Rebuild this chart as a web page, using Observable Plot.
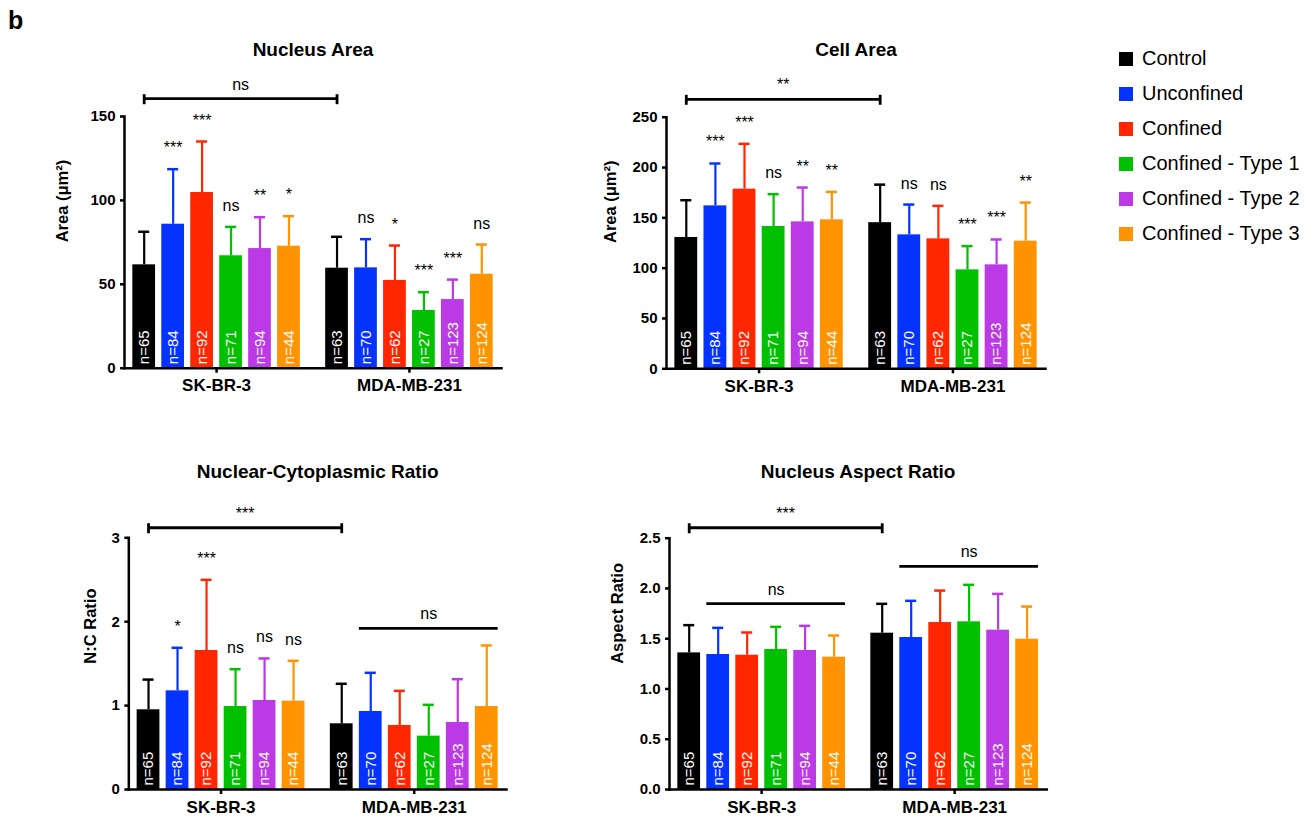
<!DOCTYPE html>
<html>
<head>
<meta charset="utf-8">
<script src="https://cdn.jsdelivr.net/npm/d3@7"></script>
<script src="https://cdn.jsdelivr.net/npm/@observablehq/plot@0.6"></script>
<style>
  html, body { margin: 0; padding: 0; background: #fff; }
  #root { position: relative; width: 1314px; height: 817px; overflow: hidden; font-family: "Liberation Sans", Arial, sans-serif; }
  .panel { position: absolute; }
  #tag { position: absolute; left: 8px; top: 6px; font-size: 25px; font-weight: bold; }
  #legend { position: absolute; left: 1119px; top: 41px; }
  .lg-row { display: flex; align-items: center; height: 35px; font-size: 20px; }
  .lg-sw { width: 14px; height: 14px; margin-right: 9px; }
</style>
</head>
<body>
<div id="root"><div id="tag">b</div><div id="legend"></div></div>
<script>
// ---------------- data ----------------
const conditions = ["Control", "Unconfined", "Confined", "Confined - Type 1", "Confined - Type 2", "Confined - Type 3"];
const cellLines = ["SK-BR-3", "MDA-MB-231"];
const nCounts = [65, 84, 92, 71, 94, 44, 63, 70, 62, 27, 123, 124];

const nucleusAreaMean = [61.6, 85.8, 104.7, 67.0, 71.3, 72.7, 59.6, 59.8, 52.3, 34.4, 40.9, 56.0];
const nucleusAreaSD   = [19.7, 32.8, 30.4, 17.2, 18.7, 17.9, 18.7, 17.1, 20.8, 10.9, 11.9, 17.7];
const nucleusAreaSig  = ["", "***", "***", "ns", "**", "*", "", "ns", "*", "***", "***", "ns"];

const cellAreaMean = [130.5, 161.9, 178.5, 141.4, 146.0, 148.0, 145.2, 133.1, 129.1, 98.3, 103.3, 126.8];
const cellAreaSD   = [37.0, 42.1, 45.0, 32.1, 34.1, 27.8, 37.8, 30.1, 32.8, 23.6, 25.2, 38.4];
const cellAreaSig  = ["", "***", "***", "ns", "**", "**", "", "ns", "ns", "***", "***", "**"];

const ncRatioMean = [0.95, 1.176, 1.657, 0.989, 1.061, 1.053, 0.783, 0.93, 0.763, 0.636, 0.799, 0.989];
const ncRatioSD   = [0.36, 0.513, 0.842, 0.445, 0.501, 0.481, 0.477, 0.461, 0.413, 0.373, 0.516, 0.728];
const ncRatioSig  = ["", "*", "***", "ns", "ns", "ns", "", "", "", "", "", ""];

const aspectMean = [1.359, 1.343, 1.336, 1.393, 1.383, 1.316, 1.555, 1.512, 1.661, 1.668, 1.585, 1.495];
const aspectSD   = [0.276, 0.265, 0.226, 0.225, 0.245, 0.216, 0.292, 0.365, 0.318, 0.368, 0.361, 0.325];
const aspectSig  = ["", "", "", "", "", "", "", "", "", "", "", ""];

// comparison annotations: [fromLine, fromCond, toLine, toCond, level, label, kind]
const nucleusAreaBrackets = [["SK-BR-3", "Control", "MDA-MB-231", "Control", 160.6, "ns", "bracket"]];
const cellAreaBrackets = [["SK-BR-3", "Control", "MDA-MB-231", "Control", 267.8, "**", "bracket"]];
const ncRatioBrackets = [
  ["SK-BR-3", "Control", "MDA-MB-231", "Control", 3.12, "***", "bracket"],
  ["MDA-MB-231", "Unconfined", "MDA-MB-231", "Confined - Type 3", 1.92, "ns", "line"]
];
const aspectBrackets = [
  ["SK-BR-3", "Control", "MDA-MB-231", "Control", 2.604, "***", "bracket"],
  ["SK-BR-3", "Unconfined", "SK-BR-3", "Confined - Type 3", 1.85, "ns", "line"],
  ["MDA-MB-231", "Unconfined", "MDA-MB-231", "Confined - Type 3", 2.22, "ns", "line"]
];

const colors = ["#000000", "#0433FF", "#FF2600", "#00C000", "#BC39E6", "#FF9300"];

// ---------------- layout ----------------
const GROUP_OFFSET = 6.66, BAR_HALF = 0.3925, CAP_HALF = 0.19;
const XDOMAIN = [-0.68, 12.34];
const FONT = "'Liberation Sans', Arial, sans-serif";
const posOf = (g, c) => cellLines.indexOf(g) * GROUP_OFFSET + conditions.indexOf(c);

function panel(cfg) {
  const rows = [];
  cellLines.forEach((g, gi) => conditions.forEach((c, ci) => {
    const k = gi * conditions.length + ci;
    rows.push({g, c, pos: posOf(g, c), mean: cfg.mean[k], top: cfg.mean[k] + cfg.sd[k], n: nCounts[k], sig: cfg.sig[k]});
  }));
  const br = cfg.brackets.map(([g1, c1, g2, c2, level, label, kind]) => {
    const a = posOf(g1, c1), b = posOf(g2, c2);
    return kind === "bracket" ? {x1: a, x2: b, level, label, kind} : {x1: a - BAR_HALF, x2: b + BAR_HALF, level, label, kind};
  });
  const ends = br.filter(d => d.kind === "bracket").flatMap(d => [{x: d.x1, level: d.level}, {x: d.x2, level: d.level}]);
  const groupCenters = cellLines.map(g => (posOf(g, conditions[0]) + posOf(g, conditions[conditions.length - 1])) / 2);

  return Plot.plot({
    width: cfg.width, height: cfg.height,
    marginLeft: cfg.ml, marginRight: cfg.mr, marginTop: cfg.mt, marginBottom: cfg.mb,
    style: {fontFamily: FONT, fontWeight: "bold", fontSize: "15px", color: "#000", background: "transparent"},
    x: {domain: XDOMAIN},
    y: {domain: [0, cfg.yMax]},
    color: {domain: conditions, range: colors},
    marks: [
      Plot.rect(rows, {x1: d => d.pos - BAR_HALF, x2: d => d.pos + BAR_HALF, y1: 0, y2: "mean", fill: "c"}),
      Plot.ruleX(rows, {x: "pos", y1: "mean", y2: "top", stroke: "c", strokeWidth: 2.2}),
      Plot.ruleY(rows, {x1: d => d.pos - CAP_HALF, x2: d => d.pos + CAP_HALF, y: "top", stroke: "c", strokeWidth: 2.5}),
      Plot.text(rows, {x: "pos", y: 0, text: d => `n=${d.n}`, rotate: -90, textAnchor: "start", lineAnchor: "middle",
        dy: -4, fill: "white", fontSize: 15, fontWeight: "normal"}),
      Plot.text(rows.filter(d => d.sig), {x: "pos", y: "top", text: "sig", lineAnchor: "bottom", dy: -16,
        fontSize: 16, fontWeight: "normal", fill: "#000"}),
      Plot.ruleY(br, {x1: "x1", x2: "x2", y: "level", strokeWidth: 2.8}),
      Plot.ruleX(ends, {x: "x", y1: "level", y2: "level", insetTop: -4, insetBottom: -6, strokeWidth: 2.8}),
      Plot.text(br, {x: d => (d.x1 + d.x2) / 2, y: "level", text: "label", lineAnchor: "bottom", dy: -9,
        fontSize: 16, fontWeight: "normal"}),
      Plot.frame({anchor: "left", strokeWidth: 2.5}),
      Plot.frame({anchor: "bottom", strokeWidth: 2.5}),
      Plot.axisY({ticks: cfg.ticks, tickFormat: cfg.tickFormat, tickSize: 4, tickPadding: 5, strokeWidth: 2.5,
        label: null, fontSize: 15, fontWeight: "bold"}),
      Plot.axisX({ticks: groupCenters, tickFormat: d => cellLines[groupCenters.indexOf(d)], tickSize: 5, tickPadding: 6,
        strokeWidth: 2.5, label: null, fontSize: 17, fontWeight: "bold"}),
      Plot.text([cfg.title], {frameAnchor: "top", text: d => d, lineAnchor: "bottom", dy: cfg.titleDy,
        fontSize: 19, fontWeight: "bold"}),
      Plot.text([cfg.yLabel], {frameAnchor: "left", text: d => d, rotate: -90, lineAnchor: "middle", dx: cfg.labelDx,
        fontSize: 16.5, fontWeight: "bold"})
    ]
  });
}

const panels = [
  {left: 0, top: 0, width: 540, height: 410, ml: 124, mr: 39, mt: 116, mb: 42.3,
   mean: nucleusAreaMean, sd: nucleusAreaSD, sig: nucleusAreaSig, brackets: nucleusAreaBrackets,
   yMax: 150, ticks: [0, 50, 100, 150], tickFormat: d => String(d),
   title: "Nucleus Area", titleDy: -61, yLabel: "Area (μm²)", labelDx: -62},
  {left: 540, top: 0, width: 540, height: 410, ml: 126, mr: 35, mt: 116.7, mb: 41.7,
   mean: cellAreaMean, sd: cellAreaSD, sig: cellAreaSig, brackets: cellAreaBrackets,
   yMax: 250, ticks: [0, 50, 100, 150, 200, 250], tickFormat: d => String(d),
   title: "Cell Area", titleDy: -61.5, yLabel: "Area (μm²)", labelDx: -56},
  {left: 0, top: 410, width: 540, height: 407, ml: 128.3, mr: 34, mt: 127.3, mb: 28,
   mean: ncRatioMean, sd: ncRatioSD, sig: ncRatioSig, brackets: ncRatioBrackets,
   yMax: 3, ticks: [0, 1, 2, 3], tickFormat: d => String(d),
   title: "Nuclear-Cytoplasmic Ratio", titleDy: -60, yLabel: "N:C Ratio", labelDx: -38},
  {left: 540, top: 410, width: 540, height: 407, ml: 129, mr: 33.7, mt: 127.7, mb: 28,
   mean: aspectMean, sd: aspectSD, sig: aspectSig, brackets: aspectBrackets,
   yMax: 2.5, ticks: [0, 0.5, 1, 1.5, 2, 2.5], tickFormat: d => d.toFixed(1),
   title: "Nucleus Aspect Ratio", titleDy: -60.4, yLabel: "Aspect Ratio", labelDx: -52}
];

const root = document.getElementById("root");
for (const cfg of panels) {
  const wrap = document.createElement("div");
  wrap.className = "panel";
  wrap.style.left = cfg.left + "px";
  wrap.style.top = cfg.top + "px";
  wrap.appendChild(panel(cfg));
  root.appendChild(wrap);
}

// legend
const legend = document.getElementById("legend");
conditions.forEach((c, i) => {
  const row = document.createElement("div");
  row.className = "lg-row";
  const sw = document.createElement("div");
  sw.className = "lg-sw";
  sw.style.background = colors[i];
  const label = document.createElement("span");
  label.textContent = c;
  row.appendChild(sw);
  row.appendChild(label);
  legend.appendChild(row);
});
</script>
</body>
</html>
